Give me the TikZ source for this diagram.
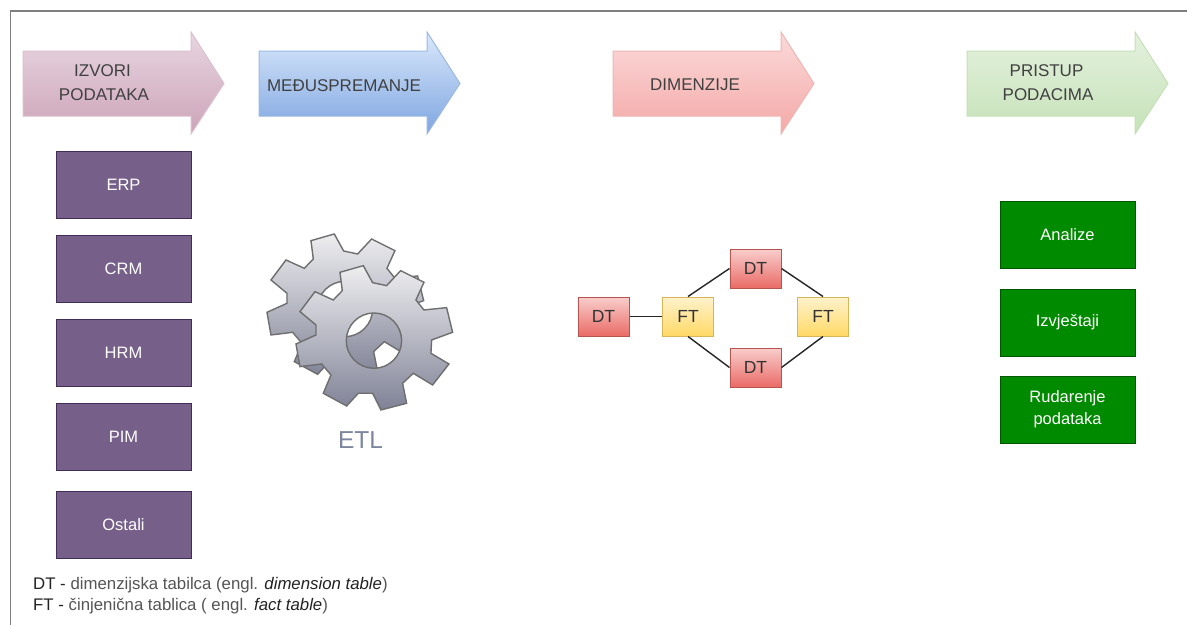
\documentclass[tikz,border=0pt]{standalone}
\usepackage{fontspec}
\setmainfont{Liberation Sans}
\definecolor{frameC}{HTML}{7F7F7F}
\definecolor{purF}{HTML}{76608A}\definecolor{purD}{HTML}{432D57}
\definecolor{grnF}{HTML}{008A00}\definecolor{grnD}{HTML}{005700}
\definecolor{dtT}{HTML}{F8CECC}\definecolor{dtB}{HTML}{EA6B66}\definecolor{dtD}{HTML}{B85450}
\definecolor{ftT}{HTML}{FFF2CC}\definecolor{ftB}{HTML}{FFD966}\definecolor{ftD}{HTML}{D6B656}
\definecolor{gearT}{HTML}{EEEEF0}\definecolor{gearB}{HTML}{7F8296}\definecolor{gearD}{HTML}{6E6E6E}
\definecolor{etlC}{HTML}{7C869E}
\definecolor{legD}{HTML}{222222}\definecolor{legG}{HTML}{555555}
\definecolor{a1T}{HTML}{E8D6E2}\definecolor{a1B}{HTML}{CCA3B8}\definecolor{a1D}{HTML}{DDBFCE}
\definecolor{a2T}{HTML}{DAE8FC}\definecolor{a2B}{HTML}{7EA6E0}\definecolor{a2D}{HTML}{9DB9E0}
\definecolor{a3T}{HTML}{FADADA}\definecolor{a3B}{HTML}{F4A9A7}\definecolor{a3D}{HTML}{EFB5B3}
\definecolor{a4T}{HTML}{E4F1DE}\definecolor{a4B}{HTML}{C6E2B8}\definecolor{a4D}{HTML}{C5E0B8}
\tikzset{
  x=1pt,y=-1pt,
  srcbox/.style={draw=purD,line width=1pt,fill=purF,text=white,minimum width=135pt,minimum height=67pt,inner sep=0pt,align=center,font=\fontsize{16.5}{22}\selectfont},
  outbox/.style={draw=grnD,line width=1pt,fill=grnF,text=white,minimum width=135pt,minimum height=67pt,inner sep=0pt,align=center,font=\fontsize{16.5}{22}\selectfont},
  dtbox/.style={draw=dtD,line width=1pt,top color=dtT,bottom color=dtB,text=black!80,minimum width=51pt,minimum height=39pt,inner sep=0pt,font=\fontsize{17.5}{20}\selectfont},
  ftbox/.style={draw=ftD,line width=1pt,top color=ftT,bottom color=ftB,text=black!80,minimum width=51pt,minimum height=39pt,inner sep=0pt,font=\fontsize{17.5}{20}\selectfont},
  headlabel/.style={text=black!75,inner sep=0pt,align=center,font=\fontsize{17}{24}\selectfont},
  link/.style={draw=black!85,line width=1.4pt},
  legendline/.style={anchor=west,inner sep=0pt,text=legG,font=\fontsize{16.8}{20}\selectfont},
  gearshape/.style={draw=gearD,line width=1.4pt,top color=gearT,bottom color=gearB,even odd rule},
}
\newcommand{\headarrow}[2]{%
  \path[#2,line width=1pt] (#1,51) -- (#1+168,51) -- (#1+168,32) -- (#1+201,83.5) -- (#1+168,134) -- (#1+168,116) -- (#1,116) -- cycle;}
\newcommand{\gearoutline}{(270,157)--(340,137)--(368,188)--(410,197)--(452,152)--(522,187)--(498,240)--(522,270)--(590,263)--(608,337)--(545,360)--(543,400)--(597,432)--(548,495)--(490,460)--(458,490)--(470,550)--(393,570)--(368,520)--(325,520)--(290,558)--(220,520)--(243,465)--(215,432)--(150,440)--(138,372)--(198,345)--(198,315)--(150,275)--(195,215)--(250,240)--(277,212)--cycle (372,362) circle[radius=83]}
\begin{document}
\begin{tikzpicture}
\useasboundingbox (0,0) rectangle (1187,625);
\fill[white] (0,0) rectangle (1187,625);
\draw[frameC,line width=1.2pt] (10.5,625) -- (10.5,11) -- (1187,11);

\headarrow{23}{draw=a1D,top color=a1T,bottom color=a1B}
\headarrow{259}{draw=a2D,top color=a2T,bottom color=a2B}
\headarrow{613}{draw=a3D,top color=a3T,bottom color=a3B}
\headarrow{967}{draw=a4D,top color=a4T,bottom color=a4B}

\node[headlabel] (h1) at (104,83) {\hspace*{-3pt}IZVORI\\ PODATAKA};
\node[headlabel] (h2) at (344,86) {MEĐUSPREMANJE};
\node[headlabel] (h3) at (695,85) {DIMENZIJE};
\node[headlabel] (h4) at (1048,83) {\hspace*{-3pt}PRISTUP\\ PODACIMA};

\node[srcbox] (erp) at (123.5,184.5) {ERP};
\node[srcbox] (crm) at (123.5,268.5) {CRM};
\node[srcbox] (hrm) at (123.5,352.5) {HRM};
\node[srcbox] (pim) at (123.5,436.5) {PIM};
\node[srcbox] (ost) at (123.5,524.5) {Ostali};

\begin{scope}[x=0.3333pt,y=-0.3333pt]
  \begin{scope}[shift={(750,660)}]
    \begin{scope}[shift={(-87,-95)}]
      \path[gearshape] \gearoutline;
    \end{scope}
    \path[gearshape] \gearoutline;
  \end{scope}
\end{scope}
\node[text=etlC,inner sep=0pt,font=\fontsize{24.5}{28}\selectfont] (etl) at (360.5,440) {ETL};

\node[dtbox] (d1) at (603.5,316.5) {DT};
\node[ftbox] (f1) at (688,316.5) {FT};
\node[dtbox] (d2) at (755.5,268.5) {DT};
\node[dtbox] (d3) at (755.5,367.5) {DT};
\node[ftbox] (f2) at (823,316.5) {FT};
\draw[link] (d1) -- (f1);
\draw[link] (f1.north) -- (d2.west);
\draw[link] (f1.south) -- (d3.west);
\draw[link] (d2.east) -- (f2.north);
\draw[link] (d3.east) -- (f2.south);

\node[outbox] (a1) at (1067.5,234.5) {Analize};
\node[outbox] (a2) at (1067.5,322.5) {Izvještaji};
\node[outbox] (a3) at (1067.5,409.5) {Rudarenje\\ podataka};

\node[legendline] (l1) at (33,585) {\textcolor{legD}{DT -} dimenzijska tabilca (engl. \textcolor{legD}{\itshape dimension table})};
\node[legendline] (l2) at (33,606) {\textcolor{legD}{FT -} činjenična tablica ( engl. \textcolor{legD}{\itshape fact table})};
\end{tikzpicture}
\end{document}
